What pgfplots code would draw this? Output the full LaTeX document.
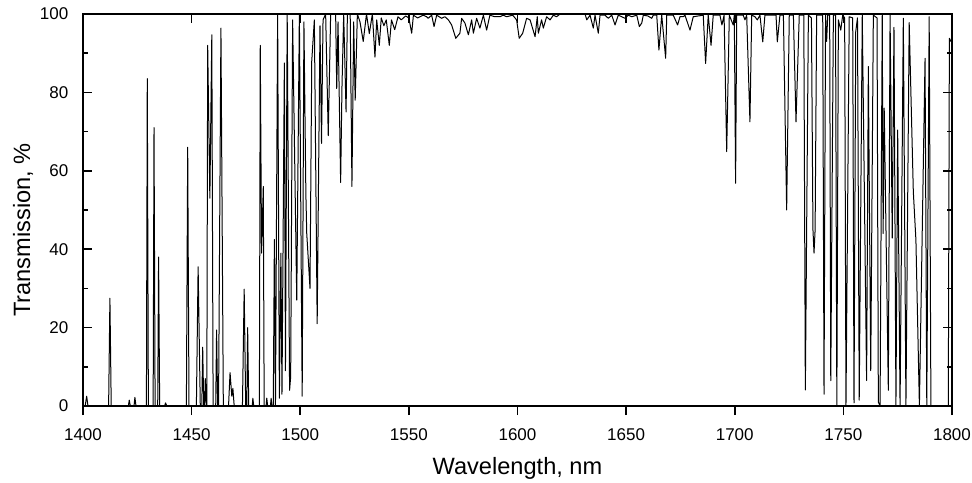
\documentclass[border=0pt]{standalone}
\usepackage{fontspec}
\setmainfont{Liberation Sans}
\usepackage{pgfplots}
\pgfplotsset{compat=1.18}
\begin{document}
\begin{tikzpicture}
\pgfplotsset{
  common/.style={
    scale only axis, width=434.5pt, height=196pt,
    xmin=1400, xmax=1800, ymin=0, ymax=100,
    axis line style={line width=0.9pt},
    every tick/.style={line width=0.8pt, black},
    major tick length=4.5pt, minor tick length=2.5pt,
    /pgf/number format/1000 sep={},
    /pgf/number format/assume math mode=true,
    tick label style={font=\fontsize{8.5}{10}\selectfont},
    label style={font=\fontsize{11.8}{14}\selectfont},
  }
}
% axis with data, inside ticks
\begin{axis}[common, name=A,
  clip mode=individual,
  xtick={1400,1450,...,1800}, xtick pos=right, xticklabels={},
  ytick={0,20,...,100}, minor ytick={10,30,50,70,90}, ytick pos=both,
  tick align=inside,
  yticklabel pos=left,
  yticklabel style={xshift=-3.8pt},
  ylabel={Transmission, \%},
  ylabel style={at={(axis description cs:-0.069,0.449)}, anchor=center},
]
\addplot[black, line width=0.5pt, line join=round] coordinates {
(1400.0,0) (1401.0,0) (1401.7,2.5) (1402.3,0) (1411.8,0) (1412.4,27.5) (1413.0,0)
(1420.9,0) (1421.3,1.5) (1421.8,0) (1423.5,0) (1423.9,2.2) (1424.4,0)
(1429.2,0) (1429.6,83.5) (1430.1,0) (1432.3,0) (1432.7,71) (1433.2,0)
(1434.4,0) (1434.8,38) (1435.3,0) (1437.6,0) (1438.0,0.8) (1438.6,0)
(1447.6,0) (1448.2,66) (1448.8,0) (1452.2,0) (1453.0,35.5) (1454.0,0)
(1454.7,0) (1455.1,15) (1455.6,0) (1456.0,0) (1456.3,7) (1456.8,0)
(1457.0,0) (1457.4,92) (1458.4,53) (1459.3,94.7) (1459.9,0)
(1461.1,0) (1461.5,19.4) (1462.0,0) (1462.4,0) (1463.5,96.4) (1464.6,0)
(1467.0,0) (1467.7,8.5) (1468.5,2.5) (1469.0,4.5) (1469.6,0)
(1473.4,0) (1474.2,29.8) (1474.9,0) (1475.4,0) (1475.8,20) (1476.3,0)
(1477.9,0) (1478.2,2) (1478.6,0) (1481.2,0) (1481.6,92) (1482.2,39) (1483.0,56) (1483.4,0)
(1484.3,0) (1484.6,2) (1485.0,0) (1486.3,0) (1486.6,2) (1487.0,0)
(1487.6,0) (1488.1,42.5) (1488.6,0) (1489.6,100) (1490.4,2) (1491.1,39) (1491.6,3)
(1492.7,87.5) (1493.2,9) (1494.0,100) (1495.1,4) (1495.6,7.5) (1496.5,98.5)
(1498.4,27) (1499.6,100) (1500.9,2.5) (1501.7,98) (1502.6,54) (1503.0,44)
(1504.5,30) (1505.3,88) (1506.5,98.5) (1507.8,21) (1509.1,97) (1509.8,67)
(1510.5,98.5) (1511.7,100) (1512.9,69) (1514.0,100) (1516.3,100) (1516.8,81)
(1517.4,98) (1518.6,57) (1519.2,81) (1520.0,100) (1521.1,75) (1521.7,100)
(1523.0,100) (1523.8,56) (1524.6,98) (1525.3,78) (1526.3,100)
(1527.5,98) (1529.0,93) (1530.5,100) (1531.8,95) (1533.2,100) (1534.4,89)
(1535.2,98.5) (1536.4,92) (1537.3,99) (1538.5,97) (1539.6,98.5) (1541.0,92)
(1542.0,98.5) (1543.5,96) (1545.0,99.3) (1546.5,98.5) (1548.5,99.5) (1550.0,99)
(1551.3,95.1) (1552.1,99.7) (1554.0,99) (1556.6,99.7) (1558.2,99.3) (1558.9,98.9)
(1560.5,99.7) (1561.6,96.8) (1562.8,99.7) (1565.1,98.9) (1566.6,99.3) (1568.2,98.5)
(1569.7,97.2) (1571.6,93.8) (1573.5,95.1) (1574.3,98.9) (1575.8,97.7) (1577.4,94.7)
(1578.9,98.5) (1579.7,95.1) (1581.2,98.9) (1582.7,96.4) (1584.3,99.7) (1585.8,95.9)
(1587.3,99.7) (1589.5,99.3) (1591.9,99.3) (1593.5,99.7) (1595.0,99.3) (1597.8,99.7)
(1599.6,98.5) (1600.8,93.8) (1602.4,95.1) (1604.2,98.9) (1605.8,98.5) (1608.1,94.2)
(1609.1,99.3) (1609.6,95.1) (1611.1,98.5) (1611.9,96.4) (1613.4,99.3) (1615.0,98.5)
(1616.5,99.7) (1618.0,99.3) (1619.6,100) (1631.1,100) (1631.9,98.5) (1633.4,99.7)
(1634.9,96.4) (1635.7,99.7) (1637.2,95.1) (1638.0,99.7) (1640.3,99.7) (1641.8,98.9)
(1643.4,99.7) (1644.9,97.2) (1646.4,99.7) (1648.0,99.3) (1649.5,98.9) (1651.0,99.7)
(1652.6,99.3) (1654.9,99.7) (1656.1,96.8) (1657.2,97.7) (1657.9,99.7) (1660.0,99.5)
(1661.8,98.9) (1662.5,99.7) (1664.1,99.7) (1665.1,90.8) (1666.4,99.7) (1668.2,88.7)
(1668.7,99.7) (1671.7,99.7) (1673.7,97.2) (1674.8,99.3) (1676.3,99.3) (1677.1,99.7)
(1679.4,95.9) (1680.9,99.3) (1685.5,99.7) (1686.6,87.4) (1687.8,99.7) (1689.1,92)
(1690.1,99.7) (1693.2,99.7) (1694.1,97.2) (1695.1,99.7) (1696.3,64.9) (1697.5,99.7)
(1699.3,97.2) (1699.8,99.7) (1700.4,56.8) (1700.9,99.7) (1703.9,99.7) (1704.7,98.5)
(1705.5,99.7) (1707.0,72.5) (1707.8,99.7) (1709.3,99.3) (1710.4,98.5) (1711.6,99.7)
(1712.9,92.9) (1713.9,99.7) (1719.0,99.7) (1719.6,92.9) (1720.8,99.7) (1722.4,99.7)
(1723.9,50) (1725.1,99.7) (1727.0,99.7) (1728.2,72.5) (1729.7,99.7) (1731.8,99.7)
(1732.5,4.1) (1733.9,99.7) (1735.3,99) (1736.0,45) (1736.5,39) (1737.0,45)
(1737.7,99.7) (1740.5,99.7) (1741.1,3) (1741.8,99.7) (1742.3,93) (1742.8,99.7)
(1743.7,99.7) (1744.2,6.5) (1745.4,99.7) (1746.4,99.7) (1747.0,0) (1747.7,98.5)
(1748.8,95.9) (1749.7,99.7) (1750.6,99) (1751.2,0) (1752.7,99.3) (1754.3,99)
(1754.9,0.8) (1755.7,95.5) (1756.5,99) (1757.3,1.5) (1758.7,99.7) (1760.7,6.5)
(1761.5,86.6) (1762.6,9) (1763.8,99.7) (1765.5,99) (1766.1,1) (1766.9,0)
(1767.9,99.7) (1768.3,44) (1768.8,76) (1770.7,4) (1771.5,99.7) (1772.5,42.8)
(1773.3,96.6) (1774.2,0) (1775.0,70.4) (1776.1,0) (1777.6,98.9) (1778.8,0)
(1780.3,97.8) (1782.2,54.7) (1783.4,42.3) (1785.0,0) (1787.6,88.7) (1788.4,0)
(1789.5,99.3) (1790.3,0) (1798.3,0) (1798.8,93.8) (1799.5,93) (1800,93)
};
\end{axis}
% axis for bottom outside x ticks and labels
\begin{axis}[common,
  xtick={1400,1450,...,1800}, xtick pos=left,
  ytick=\empty, hide y axis,
  tick align=outside,
  xticklabel style={yshift=-3.5pt},
  xlabel={Wavelength, nm},
  xlabel style={at={(axis description cs:0.5,-0.160)}, anchor=center},
]
\end{axis}
\pgfresetboundingbox
\path (A.south west) ++(-41.49pt,-38.0pt) rectangle ++(486pt,241pt);
\end{tikzpicture}
\end{document}
